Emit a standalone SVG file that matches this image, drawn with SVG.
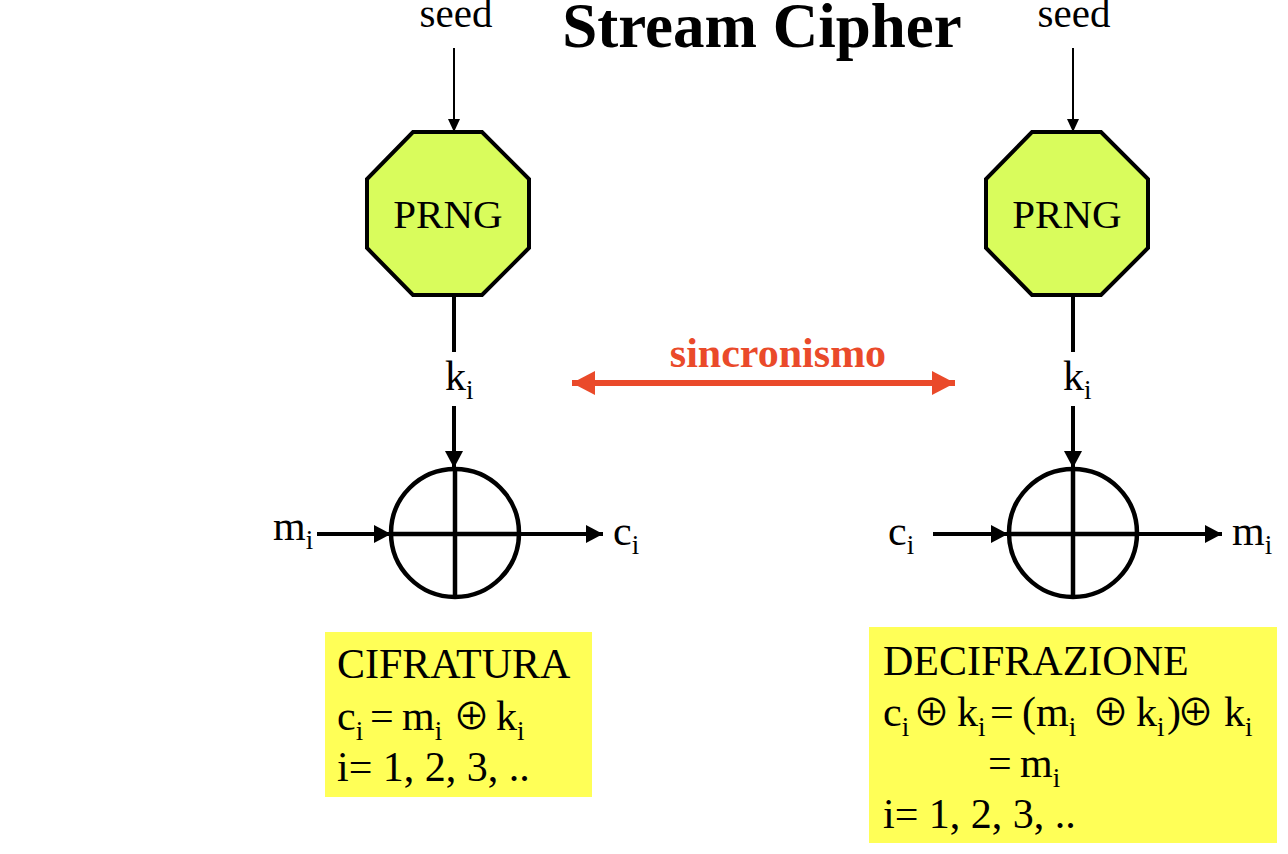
<svg xmlns="http://www.w3.org/2000/svg" width="1288" height="854" viewBox="0 0 1288 854">
<style>
.t{font-family:"Liberation Serif","Times New Roman",serif;fill:#000}
.lbl{font-size:42px}
.sub{font-size:27px}
.op{font-family:"Noto Sans CJK JP","DejaVu Sans",sans-serif;font-size:37px}
.oct{fill:#D9FC5C;stroke:#000;stroke-width:4}
.box{fill:#FFFF57}
.thin{stroke:#000;stroke-width:2;fill:none}
.thick{stroke:#000;stroke-width:4;fill:none}
.xor{fill:none;stroke:#000;stroke-width:4.5}
</style>
<defs>
<marker id="ah" markerUnits="userSpaceOnUse" markerWidth="18" markerHeight="18" viewBox="0 0 18 18" refX="17" refY="9" orient="auto"><path d="M0,0 L17,9 L0,18 z" fill="#000"/></marker>
<marker id="ahs" markerUnits="userSpaceOnUse" markerWidth="14" markerHeight="12" viewBox="0 0 14 12" refX="13" refY="6" orient="auto"><path d="M0,0 L13,6 L0,12 z" fill="#000"/></marker>
<marker id="ar" markerUnits="userSpaceOnUse" markerWidth="24" markerHeight="24" viewBox="0 0 24 24" refX="23" refY="12" orient="auto"><path d="M0,0 L23,12 L0,24 z" fill="#EA4A2A"/></marker>
<marker id="arS" markerUnits="userSpaceOnUse" markerWidth="24" markerHeight="24" viewBox="0 0 24 24" refX="1" refY="12" orient="auto"><path d="M24,0 L1,12 L24,24 z" fill="#EA4A2A"/></marker>
</defs>
<rect width="1288" height="854" fill="#fff"/>
<text class="t" x="762" y="47" font-size="63" font-weight="bold" text-anchor="middle">Stream Cipher</text>

<g id="connectors">
<line class="thin" x1="454" y1="48" x2="454" y2="132" marker-end="url(#ahs)"/>
<line class="thick" x1="454" y1="295" x2="454" y2="352"/>
<line class="thick" x1="454" y1="406" x2="454" y2="468" marker-end="url(#ah)"/>
<line class="thick" x1="317" y1="534" x2="391" y2="534" marker-end="url(#ah)"/>
<line class="thick" x1="519" y1="534" x2="603" y2="534" marker-end="url(#ah)"/>
<line class="thin" x1="1073" y1="48" x2="1073" y2="132" marker-end="url(#ahs)"/>
<line class="thick" x1="1073" y1="295" x2="1073" y2="352"/>
<line class="thick" x1="1073" y1="406" x2="1073" y2="468" marker-end="url(#ah)"/>
<line class="thick" x1="933" y1="534" x2="1008" y2="534" marker-end="url(#ah)"/>
<line class="thick" x1="1137" y1="534" x2="1222" y2="534" marker-end="url(#ah)"/>
<line x1="572" y1="383" x2="955" y2="383" stroke="#EA4A2A" stroke-width="6" marker-start="url(#arS)" marker-end="url(#ar)"/>
<text class="t" x="778" y="367" font-size="42" font-weight="bold" style="fill:#EA4A2A" text-anchor="middle">sincronismo</text>
</g>

<g id="seed-left"><text class="t" font-size="41" x="456" y="27" text-anchor="middle">seed</text></g>
<g id="seed-right"><text class="t" font-size="41" x="1074" y="27" text-anchor="middle">seed</text></g>

<g id="prng-left">
<polygon class="oct" points="413,132 482,132 529,179 529,248 482,295 413,295 367,248 367,179"/>
<text class="t" x="448" y="228" font-size="41" text-anchor="middle">PRNG</text>
</g>
<g id="prng-right">
<polygon class="oct" points="1032,132 1101,132 1148,179 1148,248 1101,295 1032,295 986,248 986,179"/>
<text class="t" x="1067" y="228" font-size="41" text-anchor="middle">PRNG</text>
</g>

<g id="ki-left"><text class="t lbl" x="445" y="390">k<tspan class="sub" dy="9">i</tspan></text></g>
<g id="ki-right"><text class="t lbl" x="1063" y="390">k<tspan class="sub" dy="9">i</tspan></text></g>

<g id="xor-left">
<circle class="xor" cx="455" cy="533" r="64"/>
<line class="xor" x1="455" y1="469" x2="455" y2="597"/>
<line class="xor" x1="391" y1="534" x2="519" y2="534"/>
</g>
<g id="xor-right">
<circle class="xor" cx="1073" cy="533" r="64"/>
<line class="xor" x1="1073" y1="469" x2="1073" y2="597"/>
<line class="xor" x1="1009" y1="534" x2="1137" y2="534"/>
</g>

<g id="mi-left"><text class="t lbl" x="273" y="540">m<tspan class="sub" dy="9">i</tspan></text></g>
<g id="ci-left"><text class="t lbl" x="613" y="545">c<tspan class="sub" dy="9">i</tspan></text></g>
<g id="ci-right"><text class="t lbl" x="888" y="545">c<tspan class="sub" dy="9">i</tspan></text></g>
<g id="mi-right"><text class="t lbl" x="1232" y="545">m<tspan class="sub" dy="9">i</tspan></text></g>

<g id="box-cifratura">
<rect class="box" x="325" y="632" width="267" height="165"/>
<text class="t lbl" x="337" y="678">CIFRATURA</text>
<text class="t lbl" y="730"><tspan x="337">c</tspan><tspan class="sub" dy="10">i</tspan><tspan x="370" dy="-10">=</tspan><tspan x="402">m</tspan><tspan class="sub" dy="10">i</tspan><tspan class="op" x="453" dy="-10">⊕</tspan><tspan x="496">k</tspan><tspan class="sub" dy="10">i</tspan></text>
<text class="t lbl" x="337" y="781">i= 1, 2, 3, ..</text>
</g>

<g id="box-decifrazione">
<rect class="box" x="869" y="627" width="408" height="216"/>
<text class="t lbl" x="883" y="675">DECIFRAZIONE</text>
<text class="t lbl" y="726"><tspan x="883">c</tspan><tspan class="sub" dy="10">i</tspan><tspan class="op" x="913" dy="-10">⊕</tspan><tspan x="957">k</tspan><tspan class="sub" dy="10">i</tspan><tspan x="990" dy="-10">=</tspan><tspan x="1022">(m</tspan><tspan class="sub" dy="10">i</tspan><tspan class="op" x="1092" dy="-10">⊕</tspan><tspan x="1136">k</tspan><tspan class="sub" dy="10">i</tspan><tspan x="1167" dy="-10">)</tspan><tspan class="op" x="1177">⊕</tspan><tspan x="1224">k</tspan><tspan class="sub" dy="10">i</tspan></text>
<text class="t lbl" y="777"><tspan x="988">=</tspan><tspan x="1020">m</tspan><tspan class="sub" dy="10">i</tspan></text>
<text class="t lbl" x="883" y="828">i= 1, 2, 3, ..</text>
</g>
</svg>
